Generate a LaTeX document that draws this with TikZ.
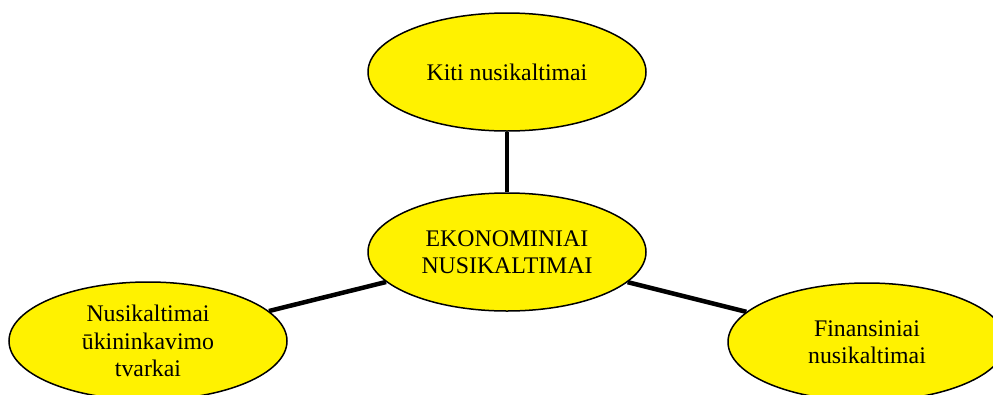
\documentclass[tikz,border=0pt]{standalone}
\usepackage{fontspec}
\setmainfont{Liberation Serif}
\usetikzlibrary{shapes.geometric}
\begin{document}
\begin{tikzpicture}[x=1pt,y=-1pt,
  bub/.style={ellipse,draw=black,line width=1.5pt,fill=yellow,
    minimum width=278pt,minimum height=118pt,inner sep=0pt,align=center,
    font=\fontsize{23.8}{27.5}\selectfont},
  link/.style={line width=4.5pt,draw=black}]
\useasboundingbox (0,0) rectangle (993,394);
\clip (0,0) rectangle (993,394);
\node[bub] (top) at (507,72) {Kiti nusikaltimai};
\node[bub] (c) at (507,252) {EKONOMINIAI\\NUSIKALTIMAI};
\node[bub] (l) at (148,341) {Nusikaltimai\\ūkininkavimo\\tvarkai};
\node[bub] (r) at (867,342) {Finansiniai\\nusikaltimai};
\draw[link] (c) -- (top);
\draw[link] (c) -- (l);
\draw[link] (c) -- (r);
\end{tikzpicture}
\end{document}
